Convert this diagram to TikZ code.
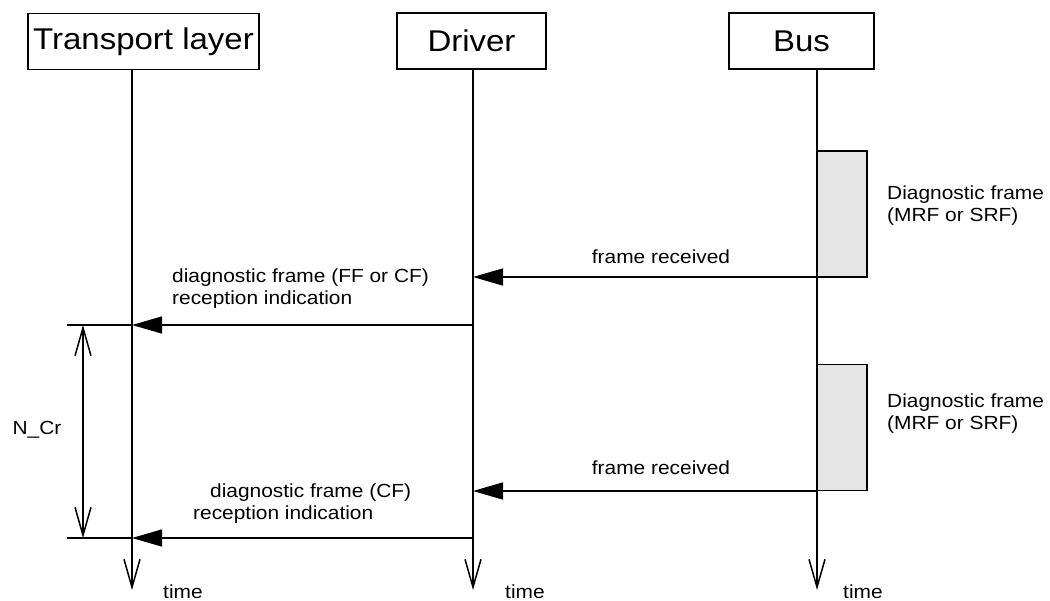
\documentclass[tikz,border=0pt]{standalone}
\usepackage{fontspec}
\setmainfont{Liberation Sans}[FakeStretch=1.1]
\usetikzlibrary{arrows.meta}
\begin{document}
\begin{tikzpicture}[x=1pt,y=-1pt]

          \tikzstyle{layerBox} = [draw, line width=1.6pt, inner sep=0pt, minimum height=56pt, font=\fontsize{30}{36}\selectfont];
          \tikzstyle{frameBox} = [draw, line width=1.6pt, fill=black!10, inner sep=0pt, minimum width=50pt, minimum height=126pt];
          \tikzstyle{lifeLine} = [line width=1.5pt, -{Straight Barb[length=28pt,width=16pt]}];
          \tikzstyle{msgLine} = [line width=1.5pt, -{Triangle[length=30pt,width=17pt]}];
          \tikzstyle{msgText} = [inner sep=0pt, align=left, font=\fontsize{19}{22}\selectfont];

          \useasboundingbox (0,0) rectangle (1050,600);

          \node[layerBox, minimum width=231pt] (tl) at (143.5,41.5) {Transport layer};
          \node[layerBox, minimum width=149pt] (drv) at (471.5,41) {Driver};
          \node[layerBox, minimum width=145pt] (bus) at (801.5,41) {Bus};

          \node[frameBox] (frameA) at (842,214) {};
          \node[frameBox] (frameB) at (842,427.5) {};

          \coordinate (tlEnd) at (132,590);
          \coordinate (drvEnd) at (473,590);
          \coordinate (busEnd) at (817,590);

          \draw[lifeLine] (tl.south -| tlEnd) -- (tlEnd);
          \draw[lifeLine] (drv.south -| drvEnd) -- (drvEnd);
          \draw[lifeLine] (bus.south -| busEnd) -- (busEnd);

          \coordinate (busA) at (817,277);
          \coordinate (drvA) at (473,277);
          \coordinate (drvB) at (473,325);
          \coordinate (tlB) at (132,325);
          \coordinate (busC) at (817,491);
          \coordinate (drvC) at (473,491);
          \coordinate (drvD) at (473,538);
          \coordinate (tlD) at (132,538);

          \draw[msgLine] (busA) -- (drvA);
          \draw[msgLine] (drvB) -- (tlB);
          \draw[msgLine] (busC) -- (drvC);
          \draw[msgLine] (drvD) -- (tlD);

          \coordinate (tickB) at (67,325);
          \coordinate (tickD) at (67,538);
          \coordinate (ncrB) at (83,325);
          \coordinate (ncrD) at (83,538);

          \draw[line width=1.5pt] (tickB) -- (tlB);
          \draw[line width=1.5pt] (tickD) -- (tlD);
          \draw[line width=1.5pt, {Straight Barb[length=28pt,width=16pt]}-{Straight Barb[length=28pt,width=16pt]}] (ncrB) -- (ncrD);

          \node[msgText] (ncr) at (37,430) {N\_Cr};

          \node[msgText, anchor=west] (frameTextA) at (887,206) {Diagnostic frame\\(MRF or SRF)};
          \node[msgText, anchor=west] (frameTextB) at (887,414) {Diagnostic frame\\(MRF or SRF)};

          \node[msgText] (recvA) at (661,257) {frame received};
          \node[msgText] (recvC) at (661,468) {frame received};

          \node[msgText, anchor=west] (indB) at (172,289) {diagnostic frame (FF or CF)\\reception indication};
          \node[msgText, anchor=west] (indD) at (193,504) {\hspace*{17pt}diagnostic frame (CF)\\reception indication};

          \node[msgText, anchor=base west] (timeTl) at (163,598) {time};
          \node[msgText, anchor=base west] (timeDrv) at (505,598) {time};
          \node[msgText, anchor=base west] (timeBus) at (843,598) {time};
        \end{tikzpicture}
\end{document}
